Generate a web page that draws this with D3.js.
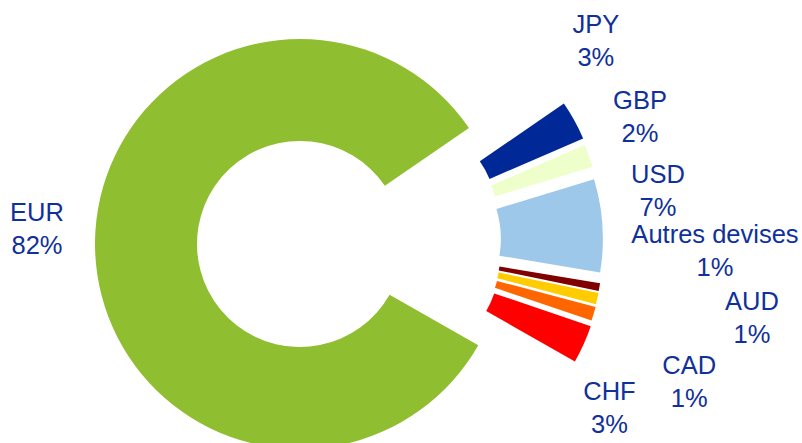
<!DOCTYPE html>
<html lang="fr">
<head>
<meta charset="utf-8">
<script src="https://cdn.jsdelivr.net/npm/d3@7"></script>
<style>
  html, body { margin: 0; padding: 0; background: #ffffff; }
  svg { display: block; }
  .lbl { font-family: "Liberation Sans", Arial, sans-serif; font-size: 25.5px; fill: #10309a; }
</style>
</head>
<body>
<svg id="chart" width="802" height="443"></svg>
<script>
// Répartition par devise (en % du total)
const currencies = ["JPY", "GBP", "USD", "Autres devises", "AUD", "CAD", "CHF", "EUR"];
const shares     = [3.1, 1.8, 7.3, 0.6, 0.9, 1.1, 3.0, 82.2];
const palette    = ["#002896", "#eeffcc", "#9dc8ea", "#800000", "#ffcc00", "#ff6600", "#ff0000", "#8fbf31"];

// Label placement: angular tweak (deg) from the slice bisector, distance from the centre
const labelPlacement = {
  "JPY": [-6.6, 363.5],
  "GBP": [-1.5, 365.7],
  "USD": [-6.0, 363.2],
  "Autres devises": [-10.6, 415],
  "AUD": [-4.9, 456.8],
  "CAD": [1.7, 410.4],
  "CHF": [2.6, 346.6],
  "EUR": [7.4, 264]
};

const width = 802, height = 443;
const cx = 300, cy = 244;
const innerR = 103, outerR = 205;
const explodeDist = 98;
const fanFactor = 0.45;
const lineGap = 33;

const rad = d => d * Math.PI / 180;
const deg = r => r * 180 / Math.PI;

const data = currencies.map((c, i) => ({ name: c, value: shares[i], color: palette[i] }));
const total = d3.sum(shares);

const start = rad(55.5);
const pie = d3.pie().value(d => d.value).sort(null).startAngle(start).endAngle(start + 2 * Math.PI);
const arcs = pie(data);

const arc = d3.arc().innerRadius(innerR).outerRadius(outerR);

// The small currencies are pulled out of the ring as a fanned group
const exploded = arcs.filter(a => a.data.name !== "EUR");
const groupMid = (d3.min(exploded, a => a.startAngle) + d3.max(exploded, a => a.endAngle)) / 2;

function offsetOf(a) {
  if (a.data.name === "EUR") return [0, 0];
  const bis = (a.startAngle + a.endAngle) / 2;
  const dir = groupMid + fanFactor * (bis - groupMid);
  return [explodeDist * Math.sin(dir), -explodeDist * Math.cos(dir)];
}

const svg = d3.select("#chart");
const g = svg.append("g").attr("transform", `translate(${cx},${cy})`);

g.selectAll("path.slice")
  .data(arcs)
  .join("path")
  .attr("class", "slice")
  .attr("d", arc)
  .attr("fill", d => d.data.color)
  .attr("transform", d => {
    const [dx, dy] = offsetOf(d);
    return `translate(${dx},${dy})`;
  });

const pct = d3.format(".0f");

const labels = g.selectAll("text.lbl")
  .data(arcs)
  .join("text")
  .attr("class", "lbl")
  .attr("text-anchor", "middle")
  .attr("transform", d => {
    const [tweak, r] = labelPlacement[d.data.name];
    const a = (d.startAngle + d.endAngle) / 2 + rad(tweak);
    return `translate(${r * Math.sin(a)},${-r * Math.cos(a)})`;
  });

labels.append("tspan").attr("x", 0).attr("y", 0).text(d => d.data.name);
labels.append("tspan").attr("x", 0).attr("y", lineGap).text(d => pct(d.value / total * 100) + "%");
</script>
</body>
</html>
